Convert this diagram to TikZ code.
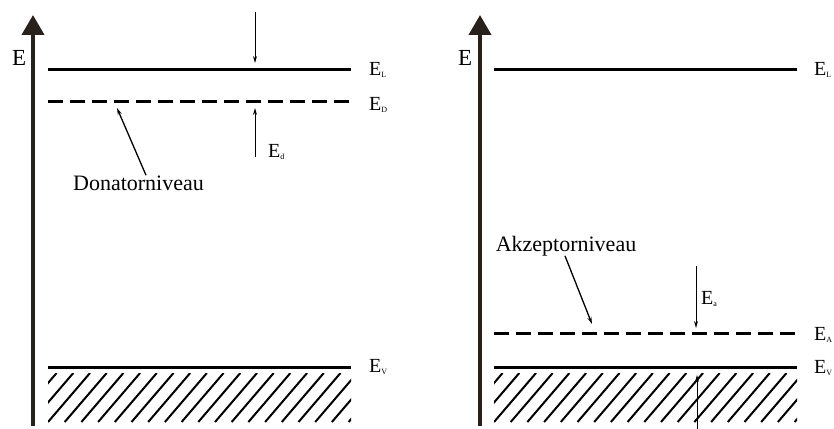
\documentclass[tikz,border=0pt]{standalone}
\usepackage{fontspec}
\setmainfont{Liberation Serif}
\usetikzlibrary{arrows.meta}
\definecolor{axiscol}{RGB}{40,32,28}
\newcommand\lsub[1]{\raisebox{-2.5pt}{\fontsize{8}{8}\selectfont #1}}
\begin{document}
\begin{tikzpicture}[x=1pt,y=-1pt,
  level/.style={line width=3pt},
  dlevel/.style={line width=3pt,dash pattern=on 15pt off 7pt},
  axisline/.style={line width=4pt,draw=axiscol,-{Triangle[width=22pt,length=20pt,fill=axiscol]}},
  thinarrow/.style={line width=0.9pt,-{Stealth[length=7pt,width=4pt]}},
  hatchline/.style={line width=2pt},
  lab/.style={inner sep=0pt,anchor=base west,font=\fontsize{20}{20}\selectfont},
  axlab/.style={inner sep=0pt,anchor=base west,font=\fontsize{23}{23}\selectfont},
  txt/.style={inner sep=0pt,anchor=base,font=\fontsize{22}{22}\selectfont}]
\useasboundingbox (0,0) rectangle (834,428);

% ---------------- left panel ----------------
\coordinate (axLb) at (33,426);
\coordinate (axLt) at (33,15);
\draw[axisline] (axLb) -- (axLt);
\node[axlab] (EL0) at (12,65) {E};

\coordinate (ELa) at (48,69);  \coordinate (ELb) at (351,69);
\coordinate (EDa) at (48,101); \coordinate (EDb) at (351,101);
\coordinate (EVa) at (48,367); \coordinate (EVb) at (351,367);
\draw[level] (ELa) -- (ELb);
\draw[dlevel] (EDa) -- (EDb);
\draw[level] (EVa) -- (EVb);
\node[lab] (lEL) at (369,75) {E\lsub{L}};
\node[lab] (lED) at (369,110) {E\lsub{D}};
\node[lab] (lEV) at (369,372) {E\lsub{V}};

\coordinate (dTop) at (255,12);   \coordinate (dTip) at (255,63);
\coordinate (uBot) at (255,157);  \coordinate (uTip) at (255,108);
\draw[thinarrow] (dTop) -- (dTip);
\draw[thinarrow] (uBot) -- (uTip);
\node[lab] (lEd) at (268,157) {E\lsub{d}};

\node[txt] (don) at (138.5,190) {Donatorniveau};
\coordinate (donTip) at (117,108);
\draw[thinarrow,line width=1.3pt] ([xshift=7.5pt]don.north) -- (donTip);

\begin{scope}
  \clip (48,373) rectangle (351,422);
  \foreach \i in {-4,...,19} \draw[hatchline] (48+\i*16.7,422) -- ++(42,-49);
\end{scope}

% ---------------- right panel ----------------
\coordinate (axRb) at (480,426);
\coordinate (axRt) at (480,15);
\draw[axisline] (axRb) -- (axRt);
\node[axlab] (ER0) at (458,65) {E};

\coordinate (RLa) at (494,69);  \coordinate (RLb) at (797,69);
\coordinate (RAa) at (494,333); \coordinate (RAb) at (797,333);
\coordinate (RVa) at (494,367); \coordinate (RVb) at (797,367);
\draw[level] (RLa) -- (RLb);
\draw[dlevel] (RAa) -- (RAb);
\draw[level] (RVa) -- (RVb);
\node[lab] (rEL) at (814,75) {E\lsub{L}};
\node[lab] (rEA) at (814,340) {E\lsub{A}};
\node[lab] (rEV) at (814,373) {E\lsub{V}};

\coordinate (aTop) at (696,266);  \coordinate (aTip) at (696,328);
\draw[thinarrow] (aTop) -- (aTip);
\node[lab] (lEa) at (701,304) {E\lsub{a}};

\node[txt] (akz) at (566,251) {Akzeptorniveau};
\coordinate (akzTip) at (592,324);
\draw[thinarrow,line width=1.3pt] ([xshift=-1pt]akz.south) -- (akzTip);

\begin{scope}
  \clip (494,373) rectangle (797,422);
  \foreach \i in {-4,...,19} \draw[hatchline] (494+\i*16.7,422) -- ++(42,-49);
\end{scope}

\coordinate (vBot) at (697,440); \coordinate (vTip) at (697,375);
\draw[thinarrow] (vBot) -- (vTip);
\end{tikzpicture}
\end{document}
